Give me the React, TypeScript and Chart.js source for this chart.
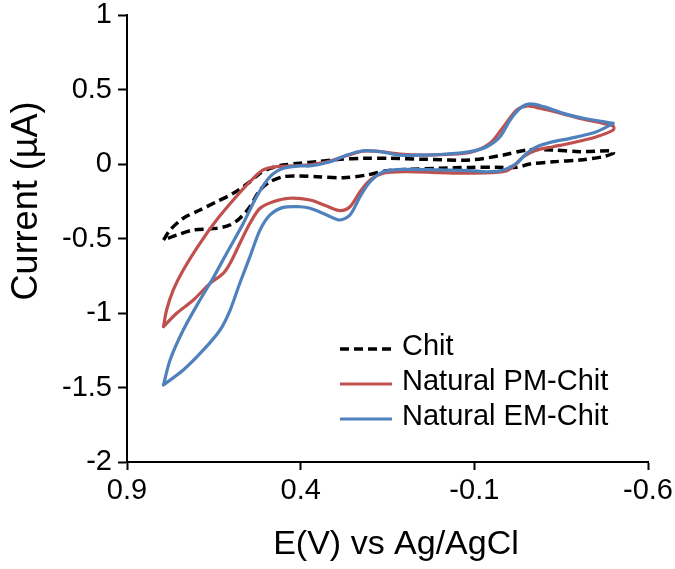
import { useEffect, useRef } from "react";
import { Chart, registerables } from "chart.js";

Chart.register(...registerables);

// ---- Data (E in V vs Ag/AgCl, I in µA), each CV loop: forward branch then return branch ----
const seriesLabels = ["Chit", "Natural PM-Chit", "Natural EM-Chit"];

const chitPotential = [
  0.795, 0.776, 0.738, 0.69, 0.642, 0.594, 0.546, 0.517, 0.488, 0.45, 0.402, 0.354, 0.287, 0.22, 0.143, 0.047,
  -0.088, -0.184, -0.251, -0.327, -0.404, -0.491, -0.5,
  -0.5, -0.471, -0.404, -0.327, -0.26, -0.222, -0.165, -0.088, 0.001, 0.085, 0.152, 0.21, 0.277, 0.354, 0.402,
  0.45, 0.488, 0.517, 0.546, 0.575, 0.603, 0.642, 0.709, 0.757, 0.795,
];
const chitCurrent = [
  -0.51, -0.443, -0.364, -0.309, -0.253, -0.197, -0.119, -0.062, -0.029, -0.007, 0.005, 0.015, 0.032, 0.038, 0.038, 0.032,
  0.027, 0.06, 0.094, 0.094, 0.083, 0.089, 0.083,
  0.072, 0.049, 0.027, 0.015, 0.0, -0.022, -0.022, -0.023, -0.029, -0.036, -0.045, -0.074, -0.092, -0.085, -0.081,
  -0.085, -0.119, -0.174, -0.287, -0.364, -0.409, -0.432, -0.443, -0.477, -0.51,
];

const pmPotential = [
  0.795, 0.786, 0.767, 0.738, 0.69, 0.642, 0.594, 0.546, 0.508, 0.469, 0.402, 0.373, 0.315, 0.267, 0.22,
  0.172, 0.114, 0.047, -0.021, -0.088, -0.145, -0.184, -0.222, -0.251, -0.289, -0.356, -0.414, -0.471, -0.5,
  -0.5, -0.452, -0.376, -0.327, -0.28, -0.241, -0.212, -0.184, -0.088, 0.001, 0.095, 0.162, 0.2, 0.229, 0.258,
  0.287, 0.325, 0.373, 0.431, 0.479, 0.517, 0.546, 0.575, 0.603, 0.623, 0.661, 0.709, 0.757, 0.795,
];
const pmCurrent = [
  -1.092, -0.98, -0.846, -0.711, -0.532, -0.376, -0.242, -0.119, -0.04, -0.018, -0.01, -0.005, 0.02, 0.057, 0.087,
  0.084, 0.067, 0.06, 0.064, 0.077, 0.139, 0.25, 0.362, 0.389, 0.374, 0.336, 0.3, 0.273, 0.255,
  0.228, 0.183, 0.139, 0.116, 0.094, 0.049, -0.018, -0.052, -0.062, -0.058, -0.052, -0.062, -0.107, -0.186, -0.287,
  -0.313, -0.282, -0.242, -0.23, -0.253, -0.297, -0.398, -0.532, -0.666, -0.734, -0.801, -0.913, -1.002, -1.092,
];

const emPotential = [
  0.795, 0.776, 0.738, 0.69, 0.652, 0.613, 0.565, 0.527, 0.488, 0.45, 0.402, 0.373, 0.315, 0.267, 0.22, 0.172,
  0.114, 0.047, -0.021, -0.088, -0.136, -0.174, -0.203, -0.232, -0.26, -0.299, -0.356, -0.414, -0.471, -0.5,
  -0.5, -0.452, -0.376, -0.327, -0.28, -0.251, -0.222, -0.184, -0.136, -0.088, 0.001, 0.095, 0.162, 0.2, 0.229,
  0.258, 0.287, 0.325, 0.373, 0.402, 0.45, 0.488, 0.517, 0.546, 0.575, 0.603, 0.632, 0.68, 0.738, 0.795,
];
const emCurrent = [
  -1.483, -1.315, -1.114, -0.913, -0.765, -0.599, -0.398, -0.219, -0.085, -0.029, -0.013, -0.013, 0.015, 0.06, 0.089, 0.083,
  0.06, 0.06, 0.067, 0.083, 0.116, 0.183, 0.295, 0.374, 0.403, 0.385, 0.34, 0.307, 0.284, 0.273,
  0.273, 0.217, 0.172, 0.15, 0.116, 0.072, 0.005, -0.04, -0.052, -0.044, -0.04, -0.036, -0.052, -0.119, -0.219,
  -0.342, -0.376, -0.342, -0.297, -0.287, -0.291, -0.342, -0.443, -0.622, -0.799, -0.98, -1.114, -1.248, -1.383, -1.483,
];

const xTickValues = [-0.6, -0.1, 0.4, 0.9];
const yTickValues = [-2, -1.5, -1, -0.5, 0, 0.5, 1];
const xTitle = "E(V) vs Ag/AgCl";
const yTitle = "Current (\u00B5A)";

const FONT = "'Liberation Sans', Arial, sans-serif";
const TEXT = "#000000";

function toPoints(xs: number[], ys: number[]) {
  return xs.map((x, i) => ({ x, y: ys[i] }));
}

export default function App() {
  const canvasRef = useRef<HTMLCanvasElement | null>(null);

  useEffect(() => {
    document.body.style.margin = "0";
    const canvas = canvasRef.current;
    if (!canvas) return;

    const overlay = {
      id: "overlay",
      afterDraw(chart: any) {
        const ctx = chart.ctx as CanvasRenderingContext2D;
        const area = chart.chartArea;
        ctx.save();
        ctx.fillStyle = TEXT;
        // axis titles
        ctx.textAlign = "center";
        ctx.textBaseline = "middle";
        ctx.font = `34px ${FONT}`;
        ctx.fillText(xTitle, 396, 545);
        ctx.save();
        ctx.translate(27, 201);
        ctx.rotate(-Math.PI / 2);
        ctx.font = `36px ${FONT}`;
        ctx.fillText(yTitle, 0, 0);
        ctx.restore();

        // legend inside plot area
        const order = [0, 1, 2];
        ctx.font = `29px ${FONT}`;
        ctx.textAlign = "left";
        order.forEach((di, k) => {
          const ds = chart.data.datasets[di];
          const y = area.top + 332 + 35 * k;
          const x0 = area.left + 213;
          ctx.save();
          ctx.strokeStyle = ds.borderColor;
          ctx.lineWidth = ds.borderWidth;
          ctx.setLineDash(ds.borderDash || []);
          ctx.beginPath();
          ctx.moveTo(x0, y + 2);
          ctx.lineTo(x0 + 52, y + 2);
          ctx.stroke();
          ctx.restore();
          ctx.fillStyle = TEXT;
          ctx.fillText(ds.label, x0 + 62, y);
        });
        ctx.restore();
      },
    };

    const chart = new Chart(canvas, {
      type: "scatter",
      data: {
        datasets: [
          {
            label: seriesLabels[0],
            data: toPoints(chitPotential, chitCurrent),
            showLine: true,
            borderColor: "#000000",
            backgroundColor: "#000000",
            borderWidth: 3.5,
            borderDash: [9, 5],
            pointRadius: 0,
            tension: 0.3,
            order: 2,
          },
          {
            label: seriesLabels[1],
            data: toPoints(pmPotential, pmCurrent),
            showLine: true,
            borderColor: "#C0504D",
            backgroundColor: "#C0504D",
            borderWidth: 3.2,
            borderCapStyle: "round",
            borderJoinStyle: "round",
            pointRadius: 0,
            tension: 0.3,
            order: 1,
          },
          {
            label: seriesLabels[2],
            data: toPoints(emPotential, emCurrent),
            showLine: true,
            borderColor: "#4F81BD",
            backgroundColor: "#4F81BD",
            borderWidth: 3.2,
            borderCapStyle: "round",
            borderJoinStyle: "round",
            pointRadius: 0,
            tension: 0.3,
            order: 0,
          },
        ] as any,
      },
      options: {
        responsive: false,
        animation: false,
        layout: { padding: { top: 15, right: 27, left: 0, bottom: 0 } },
        plugins: {
          legend: { display: false },
          tooltip: { enabled: false },
        },
        scales: {
          x: {
            type: "linear",
            reverse: true,
            min: -0.6,
            max: 0.9,
            afterBuildTicks: (s: any) => {
              s.ticks = xTickValues.map((v) => ({ value: v }));
            },
            afterFit: (s: any) => {
              s.height = 107;
              s.paddingLeft = 0;
              s.paddingRight = 0;
            },
            ticks: {
              callback: (v: any) => String(v),
              font: { family: FONT, size: 29 },
              color: TEXT,
              padding: 4,
              maxRotation: 0,
              autoSkip: false,
            },
            grid: {
              drawOnChartArea: false,
              drawTicks: true,
              tickLength: 8,
              tickColor: "#000000",
              tickWidth: 2,
            },
            border: { display: true, color: "#000000", width: 2 },
          },
          y: {
            type: "linear",
            min: -2,
            max: 1,
            afterBuildTicks: (s: any) => {
              s.ticks = yTickValues.map((v) => ({ value: v }));
            },
            afterFit: (s: any) => {
              s.width = 127;
              s.paddingTop = 0;
              s.paddingBottom = 0;
            },
            ticks: {
              callback: (v: any) => String(v),
              font: { family: FONT, size: 29 },
              color: TEXT,
              padding: 6,
              autoSkip: false,
            },
            grid: {
              drawOnChartArea: false,
              drawTicks: true,
              tickLength: 9,
              tickColor: "#000000",
              tickWidth: 2,
            },
            border: { display: true, color: "#000000", width: 2 },
          },
        },
      } as any,
      plugins: [overlay],
    });

    return () => chart.destroy();
  }, []);

  return (
    <div style={{ position: "absolute", left: 0, top: 0, width: 675, height: 569, background: "#ffffff" }}>
      <canvas ref={canvasRef} width={675} height={569} style={{ width: 675, height: 569, display: "block" }} />
    </div>
  );
}
